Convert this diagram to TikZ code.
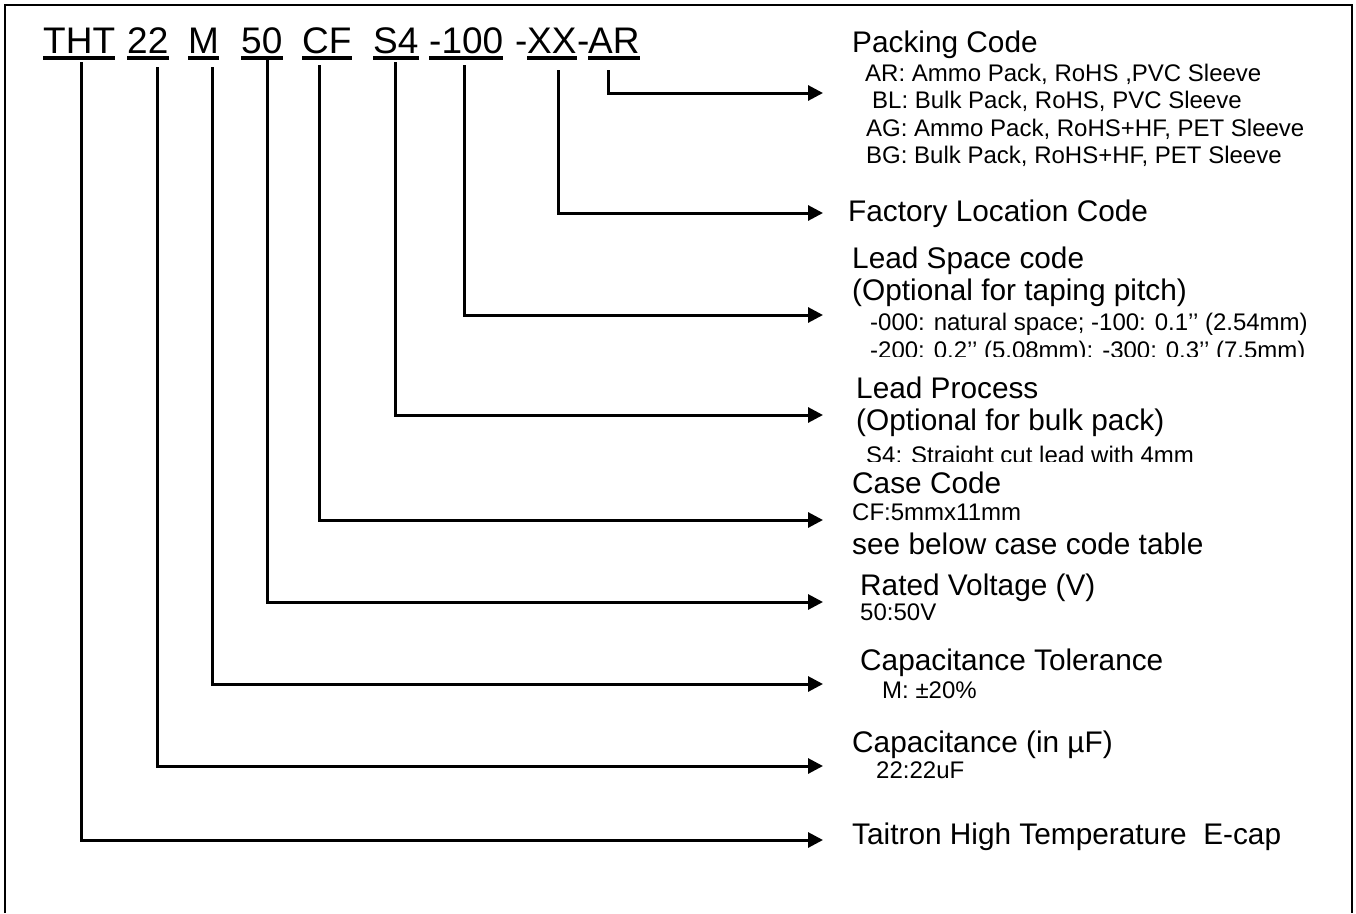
\documentclass[tikz,border=0pt]{standalone}
\usepackage{fontspec}
\setmainfont{Liberation Sans}
\usetikzlibrary{arrows.meta}
\tikzset{
  code/.style={anchor=base west, inner sep=0pt, font=\fontsize{37}{44}\selectfont},
  head/.style={anchor=base west, inner sep=0pt, font=\fontsize{29.8}{35}\selectfont},
  sub/.style={anchor=base west, inner sep=0pt, font=\fontsize{24}{28}\selectfont},
  uline/.style={line width=3.5pt},
  lead/.style={line width=3pt, -{Triangle[length=15pt,width=15pt]}},
}
\begin{document}
\begin{tikzpicture}[x=1pt,y=-1pt]
  \useasboundingbox (0,0) rectangle (1356,913);
  \draw [line width=2.5pt] (5,913) |- (1352,5) -- (1352,913);
  % part number
  \node[code] (tht) at (43,53) {THT};
  \node[code] (c22) at (127,53) {22};
  \node[code] (tol) at (188,53) {M};
  \node[code] (volt) at (241,53) {50};
  \node[code] (case) at (302,53) {CF};
  \node[code] (proc) at (373,53) {S4};
  \node[code] (space) at (429,53) {-100};
  \node[code] (dsha) at (515,53) {-};
  \node[code] (fact) at (527,53) {XX};
  \node[code] (dshb) at (577,53) {-};
  \node[code] (pack) at (588,53) {AR};
  \foreach \nm in {tht,c22,tol,volt,case,proc,space,fact,pack}
    \draw [uline] ([yshift=-5pt]\nm.base west) -- ([yshift=-5pt]\nm.base east);
  % descriptions
  \node[head] (pkhead) at (852,52) {Packing Code};
  \node[sub] (pkar) at (865,81) {AR: Ammo Pack, RoHS ,PVC Sleeve};
  \node[sub] (pkbl) at (872,108) {BL: Bulk Pack, RoHS, PVC Sleeve};
  \node[sub] (pkag) at (866,136) {AG: Ammo Pack, RoHS+HF, PET Sleeve};
  \node[sub] (pkbg) at (866,163) {BG: Bulk Pack, RoHS+HF, PET Sleeve};
  \node[head] (fchead) at (848,221) {Factory Location Code};
  \node[head] (lshead) at (852,268) {Lead Space code};
  \node[head] (lsopt) at (852,300) {(Optional for taping pitch)};
  \node[sub] (lsa) at (870,330) {-000: natural space; -100: 0.1’’ (2.54mm)};
  \begin{scope}
    \clip (860,330) rectangle (1345,356);
    \node[sub] (lsb) at (870,358) {-200: 0.2’’ (5.08mm): -300: 0.3’’ (7.5mm)};
  \end{scope}
  \node[head] (lphead) at (856,398) {Lead Process};
  \node[head] (lpopt) at (856,430) {(Optional for bulk pack)};
  \begin{scope}
    \clip (860,436) rectangle (1345,461);
    \node[sub] (lps4) at (866,463) {S4: Straight cut lead with 4mm};
  \end{scope}
  \node[head] (cchead) at (852,493) {Case Code};
  \node[sub] (cccf) at (852,520) {CF:5mmx11mm};
  \node[head] (ccsee) at (852,554) {see below case code table};
  \node[head] (rvhead) at (860,595) {Rated Voltage (V)};
  \node[sub] (rvval) at (860,620) {50:50V};
  \node[head] (cthead) at (860,670) {Capacitance Tolerance};
  \node[sub] (ctval) at (882,698) {M: ±20\%};
  \node[head] (caphead) at (852,752) {Capacitance (in µF)};
  \node[sub] (capval) at (876,778) {22:22uF};
  \node[head] (thead) at (852,844) {Taitron High Temperature~ E-cap};
  % leads
  \foreach \nm/\dx/\dy/\ly in {tht/2/9/840, c22/10/14/766, tol/9/14/684,
      volt/6/6/602, case/-7/12/520, proc/0/9/415, space/-2/12/315,
      fact/7/17/213, pack/-5/17/93} {
    \coordinate (tip-\nm) at (823,\ly);
    \draw [lead] ([xshift=\dx pt]\nm.base) ++(0,\dy) |- (tip-\nm);
  }
\end{tikzpicture}
\end{document}
